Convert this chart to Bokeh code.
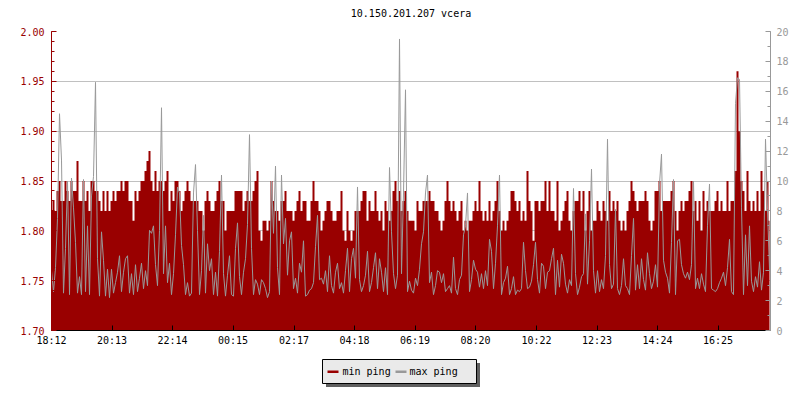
from bokeh.plotting import figure
from bokeh.models import Range1d, LinearAxis, FixedTicker, NumeralTickFormatter, ColumnDataSource
from bokeh.layouts import column
from bokeh.embed import file_html
from bokeh.resources import INLINE
from bokeh.core.properties import value

title_text = "10.150.201.207 vcera"
series_names = ["min ping", "max ping"]
series_colors = ["#990000", "#999999"]

x_tick_minutes = [0, 121, 242, 363, 485, 606, 727, 848, 970, 1091, 1212, 1333]
x_tick_labels = ["18:12", "20:13", "22:14", "00:15", "02:17", "04:18",
                 "06:19", "08:20", "10:22", "12:23", "14:24", "16:25"]
left_ticks = [1.70, 1.75, 1.80, 1.85, 1.90, 1.95, 2.00]
left_minor = [round(1.70 + 0.01 * k, 2) for k in range(31)]
right_ticks = [0, 2, 4, 6, 8, 10, 12, 14, 16, 18, 20]
right_minor = list(range(0, 21))

# sample times (minutes after 18:12), one sample every 4 minutes
sample_minutes = list(range(0, 1440, 4))

min_ping = [
    1.82, 1.83, 1.82, 1.84, 1.85, 1.83, 1.83, 1.85, 1.84, 1.83,
    1.85, 1.84, 1.84, 1.87, 1.83, 1.83, 1.85, 1.83, 1.84, 1.82,
    1.85, 1.85, 1.84, 1.84, 1.83, 1.82, 1.84, 1.82, 1.84, 1.82,
    1.83, 1.84, 1.83, 1.84, 1.84, 1.85, 1.84, 1.85, 1.85, 1.83,
    1.83, 1.81, 1.84, 1.83, 1.84, 1.85, 1.85, 1.86, 1.87, 1.88,
    1.85, 1.84, 1.86, 1.84, 1.85, 1.85, 1.84, 1.85, 1.86, 1.82,
    1.84, 1.83, 1.85, 1.85, 1.84, 1.82, 1.83, 1.84, 1.85, 1.84,
    1.83, 1.83, 1.83, 1.83, 1.82, 1.82, 1.80, 1.83, 1.84, 1.83,
    1.82, 1.82, 1.83, 1.84, 1.85, 1.83, 1.83, 1.80, 1.82, 1.82,
    1.82, 1.82, 1.84, 1.84, 1.84, 1.84, 1.82, 1.83, 1.84, 1.83,
    1.83, 1.84, 1.85, 1.86, 1.80, 1.79, 1.81, 1.81, 1.80, 1.81,
    1.85, 1.83, 1.82, 1.82, 1.81, 1.83, 1.83, 1.84, 1.82,
    1.82, 1.82, 1.81, 1.82, 1.83, 1.84, 1.82, 1.83, 1.83, 1.81,
    1.81, 1.83, 1.85, 1.83, 1.83, 1.82, 1.80, 1.81, 1.82, 1.83,
    1.83, 1.82, 1.81, 1.81, 1.82, 1.82, 1.84, 1.80, 1.79, 1.82,
    1.80, 1.79, 1.80, 1.82, 1.82, 1.82, 1.83, 1.84, 1.84, 1.81,
    1.83, 1.82, 1.82, 1.84, 1.82, 1.81, 1.82, 1.80, 1.83, 1.82,
    1.81, 1.82, 1.84, 1.85, 1.83, 1.84, 1.82, 1.83, 1.84,
    1.82, 1.81, 1.81, 1.81, 1.80, 1.83, 1.82, 1.82, 1.83, 1.83,
    1.83, 1.84, 1.83, 1.83, 1.82, 1.82, 1.81, 1.80, 1.81, 1.83,
    1.85, 1.83, 1.82, 1.83, 1.82, 1.81, 1.82, 1.83, 1.80, 1.81,
    1.80, 1.81, 1.81, 1.82, 1.83, 1.82, 1.85, 1.82, 1.81, 1.82,
    1.81, 1.83, 1.81, 1.82, 1.83, 1.85, 1.82, 1.80, 1.81, 1.80,
    1.81, 1.82, 1.84, 1.84, 1.83, 1.82, 1.83, 1.81, 1.82,
    1.81, 1.86, 1.83, 1.82, 1.79, 1.83, 1.83, 1.82, 1.83, 1.83,
    1.85, 1.82, 1.85, 1.82, 1.82, 1.81, 1.85, 1.80, 1.81, 1.82,
    1.83, 1.84, 1.81, 1.80, 1.82, 1.83, 1.83, 1.84, 1.82, 1.84,
    1.80, 1.82, 1.84, 1.80, 1.81, 1.81, 1.83, 1.82, 1.81, 1.83,
    1.82, 1.81, 1.84, 1.82, 1.83, 1.82, 1.83, 1.81, 1.80, 1.81,
    1.80, 1.82, 1.83, 1.85, 1.84, 1.83, 1.82, 1.83, 1.83,
    1.83, 1.84, 1.83, 1.81, 1.80, 1.81, 1.84, 1.84, 1.85, 1.82,
    1.83, 1.83, 1.83, 1.83, 1.84, 1.85, 1.82, 1.80, 1.82, 1.83,
    1.82, 1.83, 1.83, 1.84, 1.85, 1.82, 1.83, 1.81, 1.83, 1.80,
    1.84, 1.82, 1.83, 1.82, 1.82, 1.82, 1.83, 1.84, 1.82, 1.83,
    1.82, 1.82, 1.85, 1.82, 1.83, 1.83, 1.86, 1.96, 1.90, 1.85,
    1.84, 1.82, 1.86, 1.83,
    1.82, 1.83, 1.82, 1.84, 1.82, 1.86, 1.84, 1.82, 1.85, 1.81,
]

max_ping = [
    4.0, 2.6, 4.2, 7.5, 14.5, 11.4, 2.5, 5.5, 10.0, 2.4,
    10.2, 8.2, 5.9, 2.5, 3.6, 2.4, 10.1, 2.6, 7.0, 2.4,
    9.0, 10.3, 16.6, 4.8, 2.3, 6.6, 4.7, 2.3, 4.1, 2.2,
    4.1, 2.5, 3.2, 3.9, 5.0, 2.6, 3.9, 4.8, 5.0, 2.5,
    3.8, 2.4, 4.4, 2.6, 3.5, 4.5, 2.8, 4.0, 3.0, 6.7,
    6.5, 7.0, 4.4, 3.0, 6.7, 14.9, 3.8, 7.0, 3.2, 4.5,
    2.4, 3.8, 6.4, 9.6, 9.2, 5.7, 4.4, 2.4, 3.2, 2.3,
    2.5, 9.2, 11.1, 6.7, 2.4, 4.0, 7.7, 2.5, 5.8, 4.0,
    4.8, 2.4, 3.9, 2.3, 5.3, 10.4, 3.8, 2.3, 3.7, 5.0,
    2.4, 2.3, 5.5, 7.2, 3.6, 2.4, 3.9, 4.8, 7.1, 13.1,
    5.5, 2.4, 3.4, 3.1, 2.4, 3.4, 3.2, 2.8, 2.2, 2.6,
    10.0, 6.5, 11.0, 4.2, 2.4, 10.4, 5.8, 7.5, 3.7,
    6.0, 6.6, 2.8, 3.5, 2.5, 4.5, 3.9, 6.0, 2.3, 2.4,
    2.7, 2.8, 3.2, 5.6, 7.7, 3.4, 3.5, 3.1, 4.0, 2.6,
    5.0, 3.0, 2.5, 3.9, 4.5, 2.8, 3.2, 2.5, 4.0, 5.5,
    2.6, 4.8, 5.5, 3.5, 9.6, 3.4, 2.6, 3.0, 3.7, 5.3,
    2.6, 3.2, 4.2, 5.2, 2.8, 4.8, 3.9, 2.6, 4.2, 2.4,
    10.9, 6.6, 3.8, 2.8, 3.7, 19.5, 3.8, 9.2, 16.1,
    2.6, 3.3, 2.7, 2.5, 3.5, 3.0, 4.1, 5.8, 6.6, 9.2,
    10.4, 3.2, 3.9, 2.4, 3.0, 4.0, 3.9, 3.2, 3.8, 2.6,
    2.8, 3.0, 2.5, 4.9, 2.8, 2.4, 3.4, 3.7, 6.4, 7.0,
    9.2, 2.6, 3.4, 4.7, 4.1, 3.9, 2.9, 3.8, 2.8, 4.0,
    3.0, 6.1, 5.3, 2.8, 4.5, 7.0, 10.4, 2.4, 3.2, 3.5,
    4.3, 2.4, 2.8, 3.6, 2.4, 2.7, 2.6, 2.8, 5.9,
    4.0, 2.8, 2.9, 3.3, 4.4, 5.9, 3.4, 2.5, 4.5, 4.3,
    2.8, 3.9, 4.0, 4.8, 5.5, 2.4, 4.7, 2.9, 5.1, 4.5,
    3.1, 2.5, 3.4, 3.0, 9.5, 3.8, 2.4, 2.9, 3.6, 3.8,
    7.8, 3.1, 6.0, 10.8, 4.0, 2.5, 4.0, 2.6, 3.4, 2.8,
    5.0, 12.8, 4.4, 2.8, 3.1, 8.1, 2.8, 2.4, 3.0, 4.8,
    3.0, 2.8, 2.4, 5.0, 7.5, 2.7, 4.4, 2.8, 4.8,
    3.4, 2.7, 5.2, 3.8, 2.8, 3.3, 4.4, 2.9, 9.8, 11.8,
    4.7, 3.9, 3.5, 2.5, 5.9, 10.1, 2.4, 6.0, 6.1, 4.4,
    3.8, 3.5, 3.9, 3.4, 4.4, 10.0, 2.8, 3.5, 2.8, 3.8,
    3.1, 2.6, 7.0, 9.8, 2.8, 2.7, 2.6, 2.8, 3.2, 3.5,
    3.9, 3.0, 4.2, 6.1, 2.6, 2.4, 15.2, 16.9, 16.8, 8.2,
    2.4, 6.4, 3.0, 7.0,
    3.3, 2.6, 3.6, 2.9, 4.6, 2.7, 3.9, 12.8, 8.1, 4.1,
]

FONT = "DejaVu Sans Mono"
RED, GRAY = series_colors
# plot frame spans screen x 51..770 in every strip of the column
FRAME_L, FRAME_R = 51, 770


def strip(height):
    f = figure(width=800, height=height, output_backend="svg", toolbar_location=None,
               x_range=Range1d(FRAME_L, FRAME_R), y_range=Range1d(0, height),
               x_axis_type=None, y_axis_type=None,
               min_border_left=FRAME_L, min_border_right=800 - FRAME_R,
               min_border_top=0, min_border_bottom=0,
               background_fill_color="white", border_fill_color="white")
    f.outline_line_color = None
    return f


# title strip (screen y 0..21)
top = strip(21)
top.text(x=[(FRAME_L + FRAME_R) / 2], y=[21 - 13], text=[title_text],
         text_font=value(FONT), text_font_size="10px", text_align="center",
         text_baseline="middle", text_color="black")

src = ColumnDataSource(dict(t=sample_minutes, lo=min_ping, hi=max_ping))

p = figure(width=800, height=329, output_backend="svg", toolbar_location=None,
           x_range=Range1d(0, 1438), y_range=Range1d(1.70, 2.00),
           min_border_left=FRAME_L, min_border_right=800 - FRAME_R,
           min_border_top=10, min_border_bottom=20,
           background_fill_color="white", border_fill_color="white")
p.outline_line_color = None
p.extra_y_ranges = {"right": Range1d(0, 20)}

p.varea_step(x="t", y1=1.70, y2="lo", step_mode="center", source=src,
             fill_color=RED, fill_alpha=1.0)
p.line(x="t", y="hi", source=src, y_range_name="right",
       line_color=GRAY, line_width=1)

# left axis
ya = p.yaxis[0]
ya.ticker = FixedTicker(ticks=left_ticks, minor_ticks=left_minor)
ya.formatter = NumeralTickFormatter(format="0.00")
ya.axis_line_color = RED
ya.major_tick_line_color = RED
ya.minor_tick_line_color = RED
ya.major_label_text_color = RED
ya.major_tick_in = 5
ya.major_tick_out = 0
ya.minor_tick_in = 3
ya.minor_tick_out = 0
ya.major_label_standoff = 7
ya.major_label_text_font = FONT
ya.major_label_text_font_size = "10px"

# right axis
ra = LinearAxis(y_range_name="right",
                ticker=FixedTicker(ticks=right_ticks, minor_ticks=right_minor))
ra.axis_line_color = GRAY
ra.major_tick_line_color = GRAY
ra.minor_tick_line_color = GRAY
ra.major_label_text_color = GRAY
ra.major_tick_in = 5
ra.major_tick_out = 0
ra.minor_tick_in = 3
ra.minor_tick_out = 0
ra.major_label_standoff = 6
ra.major_label_text_font = FONT
ra.major_label_text_font_size = "10px"
p.add_layout(ra, "right")

# bottom axis
xa = p.xaxis[0]
xa.ticker = FixedTicker(ticks=x_tick_minutes)
xa.major_label_overrides = {k: v for k, v in zip(x_tick_minutes, x_tick_labels)}
xa.axis_line_color = "black"
xa.major_tick_line_color = "black"
xa.minor_tick_line_color = None
xa.major_tick_in = 5
xa.major_tick_out = 0
xa.major_label_standoff = 4
xa.major_label_text_font = FONT
xa.major_label_text_font_size = "10px"
xa.major_label_text_color = "black"

p.xgrid.visible = False
p.ygrid.grid_line_color = "#c0c0c0"
p.ygrid.grid_line_width = 1

# legend strip (screen y 350..390), coordinates in screen pixels
lg = strip(40)
lg.quad(left=[325.5], right=[479.5], bottom=[3.5], top=[27.5],
        fill_color="#606060", line_color=None)
lg.quad(left=[322], right=[476], bottom=[7], top=[31],
        fill_color="#eaeaea", line_color="black", line_width=1)
lg.quad(left=[327, 395], right=[338, 406], bottom=[17.5, 17.5], top=[20, 20],
        fill_color=series_colors, line_color=None)
lg.text(x=[342, 409], y=[19, 19], text=series_names,
        text_font=value(FONT), text_font_size="10px",
        text_baseline="middle", text_align="left", text_color="black")

layout = column(top, p, lg, spacing=0)
open("out.html", "w").write(file_html(layout, INLINE))
